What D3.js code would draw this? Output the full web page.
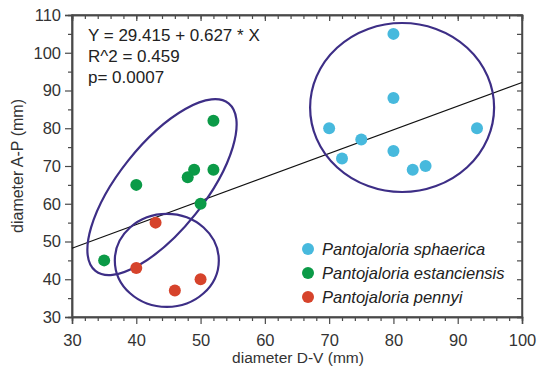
<!DOCTYPE html>
<html>
<head>
<meta charset="utf-8">
<script src="https://cdn.jsdelivr.net/npm/d3@7"></script>
<style>
  body { margin: 0; background: #fff; }
  svg { font-family: "Liberation Sans", Arial, sans-serif; }
</style>
</head>
<body>
<svg id="chart" width="540" height="375"></svg>
<script>
// data
const sphaericaX = [80, 80, 70, 75, 72, 80, 83, 85, 93];
const sphaericaY = [105, 88, 80, 77, 72, 74, 69, 70, 80];
const estanciensisX = [40, 52, 49, 48, 52, 50, 35];
const estanciensisY = [65, 82, 69, 67, 69, 60, 45];
const pennyiX = [43, 40, 46, 50];
const pennyiY = [55, 43, 37, 40];

const speciesNames = ['Pantojaloria sphaerica', 'Pantojaloria estanciensis', 'Pantojaloria pennyi'];
const speciesColors = ['#47b9dd', '#0b9a47', '#d6432b'];

const xTicks = [30, 40, 50, 60, 70, 80, 90, 100];
const yTicks = [30, 40, 50, 60, 70, 80, 90, 100, 110];

const intercept = 29.415, slope = 0.627;
const statLines = ['Y = 29.415 + 0.627 * X', 'R^2 = 0.459', 'p= 0.0007'];

const svg = d3.select('#chart');
const margin = { left: 72, right: 18, top: 15, bottom: 58 };
const W = 540, H = 375;

const x = d3.scaleLinear().domain([30, 100]).range([margin.left, W - margin.right]);
const y = d3.scaleLinear().domain([30, 110]).range([H - margin.bottom, margin.top]);

const axisColor = '#4a4a4a';
const textColor = '#333';

// group ellipses (centre in data units, radii in px)
const ellipses = [
  { cx: 81.35, cy: 85.5, rx: 92, ry: 84.5, rot: 0 },
  { cx: 44.0, cy: 64.4, rx: 107, ry: 43, rot: -51.5 },
  { cx: 44.75, cy: 45.0, rx: 52, ry: 46.5, rot: 0 }
];

// axes
svg.append('g').attr('transform', `translate(0,${y(30)})`)
  .call(d3.axisBottom(x).tickValues(xTicks).tickSize(7).tickPadding(10));
svg.append('g').attr('transform', `translate(0,${y(30)})`)
  .call(d3.axisBottom(x).tickValues(d3.range(32, 100, 2).filter(v => v % 10)).tickSize(4).tickFormat(''));
svg.append('g').attr('transform', `translate(0,${y(110)})`)
  .call(d3.axisBottom(x).tickValues(d3.range(30, 101, 2)).tickSize(4).tickFormat(''));
svg.append('g').attr('transform', `translate(0,${y(110)})`)
  .call(d3.axisBottom(x).tickValues(xTicks).tickSize(6).tickFormat(''));

svg.append('g').attr('transform', `translate(${x(30)},0)`)
  .call(d3.axisLeft(y).tickValues(yTicks).tickSize(7).tickPadding(4));
svg.append('g').attr('transform', `translate(${x(30)},0)`)
  .call(d3.axisLeft(y).tickValues(d3.range(35, 110, 10)).tickSize(4).tickFormat(''));
svg.append('g').attr('transform', `translate(${x(100)},0)`)
  .call(d3.axisLeft(y).tickValues(d3.range(30, 111, 5)).tickSize(5).tickFormat(''));

svg.selectAll('.domain').attr('stroke', axisColor).attr('stroke-width', 1.5);
svg.selectAll('.tick line').attr('stroke', axisColor).attr('stroke-width', 1.2);
svg.selectAll('.tick text').attr('fill', textColor).attr('font-size', 16.5)
  .attr('font-family', '"Liberation Sans", Arial, sans-serif');

// frame
svg.append('rect')
  .attr('x', x(30)).attr('y', y(110))
  .attr('width', x(100) - x(30)).attr('height', y(30) - y(110))
  .attr('fill', 'none').attr('stroke', axisColor).attr('stroke-width', 1.5);

// axis titles
svg.append('text')
  .attr('x', 298).attr('y', 363)
  .attr('text-anchor', 'middle').attr('fill', textColor).attr('font-size', 15.5)
  .text('diameter D-V (mm)');
svg.append('text')
  .attr('transform', `translate(23,${(y(30) + y(110)) / 2}) rotate(-90)`)
  .attr('text-anchor', 'middle').attr('fill', textColor).attr('font-size', 16)
  .text('diameter A-P (mm)');

// regression line
svg.append('line')
  .attr('x1', x(30)).attr('y1', y(intercept + slope * 30))
  .attr('x2', x(100)).attr('y2', y(intercept + slope * 100))
  .attr('stroke', '#111').attr('stroke-width', 1.1);

// ellipses
svg.append('g').selectAll('ellipse')
  .data(ellipses)
  .join('ellipse')
  .attr('transform', d => `translate(${x(d.cx)},${y(d.cy)}) rotate(${d.rot})`)
  .attr('rx', d => d.rx).attr('ry', d => d.ry)
  .attr('fill', 'none').attr('stroke', '#3d2e86').attr('stroke-width', 2.2);

// points
const groups = [
  { xs: sphaericaX, ys: sphaericaY, color: speciesColors[0] },
  { xs: estanciensisX, ys: estanciensisY, color: speciesColors[1] },
  { xs: pennyiX, ys: pennyiY, color: speciesColors[2] }
];
groups.forEach(g => {
  svg.append('g').selectAll('circle')
    .data(g.xs.map((v, i) => [v, g.ys[i]]))
    .join('circle')
    .attr('cx', d => x(d[0])).attr('cy', d => y(d[1]))
    .attr('r', 6).attr('fill', g.color);
});

// stats text
svg.append('g').selectAll('text')
  .data(statLines)
  .join('text')
  .attr('x', 88).attr('y', (d, i) => 41 + i * 21)
  .attr('fill', '#222').attr('font-size', 17)
  .text(d => d);

// legend
const legend = svg.append('g').selectAll('g')
  .data(speciesNames)
  .join('g')
  .attr('transform', (d, i) => `translate(308,${[249, 273, 297][i]})`);
legend.append('circle').attr('r', 6).attr('fill', (d, i) => speciesColors[i]);
legend.append('text')
  .attr('x', 14).attr('y', 5.5)
  .attr('font-style', 'italic').attr('font-size', 16.5)
  .attr('fill', '#222')
  .text(d => d);
</script>
</body>
</html>
